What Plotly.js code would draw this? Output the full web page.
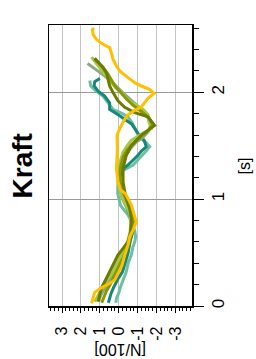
<!DOCTYPE html>
<html>
<head>
<meta charset="utf-8">
<script src="https://cdn.plot.ly/plotly-3.0.1.min.js"></script>
<style>html,body{margin:0;padding:0;background:#fff;}#chart{width:256px;height:359px;}</style>
</head>
<body>
<div id="chart"></div>
<script>
// Force values in N/100, time in s (chart is drawn rotated: time runs upward, force runs right-to-left)
const forceTicks = [3, 2, 1, 0, -1, -2, -3];
const forceTickText = ["3", "2", "1", "0", "-1", "-2", "-3"];
const timeTicks = [0, 1, 2];

const lightTealTime = [0.03,0.07,0.12,0.17,0.25,0.32,0.4,0.48,0.55,0.6,0.65,0.7,0.78,0.85,0.94,1.0,1.05,1.1,1.16,1.22,1.27,1.32,1.38,1.45,1.49,1.53,1.58,1.65,1.72,1.77,1.8,1.84,1.9,1.965,2.01,2.06,2.11];
const lightTealForce = [0.15,0.12,0.0,-0.08,-0.25,-0.4,-0.5,-0.67,-0.75,-0.85,-0.9,-0.85,-0.7,-0.5,-0.1,0.0,0.05,0.05,0.04,-0.05,-0.23,-0.76,-1.1,-1.45,-1.64,-1.45,-1.1,-0.9,-0.7,-0.49,-0.2,0.3,0.56,0.83,1.18,1.48,1.53];

const darkTealTime = [0.03,0.07,0.12,0.17,0.25,0.32,0.4,0.5,0.6,0.7,0.78,0.85,0.9,0.95,1.01,1.1,1.16,1.22,1.27,1.32,1.37,1.41,1.45,1.49,1.55,1.62,1.7,1.74,1.78,1.81,1.84,1.9,1.965,2.01,2.06,2.1,2.13];
const darkTealForce = [0.55,0.5,0.4,0.28,0.05,-0.2,-0.35,-0.5,-0.6,-0.75,-0.75,-0.6,-0.49,-0.4,-0.23,-0.1,-0.05,-0.08,-0.14,-0.49,-0.8,-1.02,-1.2,-1.46,-1.35,-1.0,-0.7,-0.4,-0.05,0.21,0.48,0.48,0.74,1.09,1.3,1.27,1.0];

const grayGreenTime = [0.05,0.1,0.16,0.22,0.28,0.35,0.42,0.5,0.58,0.66,0.74,0.82,0.88,0.95,1.02,1.1,1.18,1.25,1.32,1.4,1.47,1.53,1.58,1.64,1.7,1.76,1.82,1.88,1.94,2.0,2.06,2.12,2.18,2.23,2.27];
const grayGreenForce = [1.05,0.95,0.75,0.55,0.35,0.1,-0.12,-0.3,-0.5,-0.62,-0.7,-0.68,-0.55,-0.35,-0.15,-0.05,0.0,-0.05,-0.15,-0.35,-0.6,-0.9,-1.3,-1.6,-1.7,-1.55,-1.3,-0.95,-0.55,-0.2,0.15,0.5,0.95,1.35,1.65];

const lightGreenTime = [0.04,0.1,0.15,0.2,0.26,0.32,0.4,0.48,0.55,0.62,0.7,0.78,0.85,0.91,0.97,1.04,1.12,1.19,1.26,1.32,1.38,1.44,1.5,1.55,1.61,1.66,1.72,1.79,1.84,1.89,1.93,1.995,2.04,2.09,2.17,2.23,2.29,2.33];
const lightGreenForce = [1.27,1.1,0.95,0.78,0.55,0.3,0.08,-0.15,-0.35,-0.5,-0.6,-0.65,-0.6,-0.49,-0.3,-0.14,-0.02,0.04,0.0,-0.05,-0.12,-0.23,-0.45,-0.67,-1.2,-1.73,-1.6,-1.55,-1.29,-0.85,-0.49,-0.14,0.15,0.39,0.74,1.0,1.27,1.44];

const oliveTime = [0.03,0.08,0.14,0.2,0.28,0.36,0.44,0.52,0.6,0.68,0.76,0.84,0.92,1.0,1.08,1.16,1.24,1.32,1.4,1.46,1.52,1.58,1.64,1.7,1.76,1.82,1.88,1.94,2.0,2.06,2.12,2.18,2.24,2.28,2.31];
const oliveForce = [0.9,0.8,0.65,0.45,0.25,0.02,-0.2,-0.4,-0.55,-0.68,-0.8,-0.75,-0.6,-0.4,-0.2,-0.08,-0.05,-0.12,-0.25,-0.45,-0.75,-1.15,-1.55,-1.8,-1.6,-1.2,-0.75,-0.4,-0.1,0.2,0.4,0.6,0.85,1.1,1.28];

const darkOliveTime = [0.04,0.1,0.165,0.26,0.383,0.477,0.54,0.6,0.69,0.82,0.91,1.04,1.16,1.29,1.41,1.5,1.6,1.69,1.77,1.81,1.86,1.92,1.997,2.06,2.12,2.18,2.23,2.28,2.32];
const darkOliveForce = [1.09,1.0,0.92,0.65,0.3,0.04,-0.23,-0.49,-0.63,-0.67,-0.58,-0.35,-0.23,-0.23,-0.4,-0.67,-1.2,-1.9,-1.55,-0.85,-0.32,0.04,0.3,0.48,0.56,0.65,0.83,1.09,1.27];

const yellowTime = [0.025,0.128,0.171,0.203,0.243,0.305,0.383,0.477,0.57,0.648,0.71,0.788,0.835,0.88,0.944,1.006,1.053,1.084,1.162,1.287,1.474,1.598,1.66,1.72,1.785,1.832,1.863,1.904,1.944,1.99,2.028,2.059,2.09,2.137,2.2,2.246,2.308,2.371,2.418,2.449,2.495,2.542,2.589,2.6];
const yellowForce = [1.44,1.27,0.92,0.56,0.21,0.04,-0.18,-0.32,-0.49,-0.58,-0.76,-0.93,-0.85,-0.76,-0.67,-0.49,-0.35,-0.11,0.04,0.12,0.07,0.09,-0.05,-0.23,-0.45,-0.85,-1.2,-1.37,-1.55,-1.87,-1.64,-1.2,-0.85,-0.49,-0.05,0.12,0.3,0.39,0.48,0.83,1.18,1.36,1.39,1.3];

const series = [
  {t: lightTealTime, f: lightTealForce, color: "#6cbf9f"},
  {t: darkTealTime, f: darkTealForce, color: "#16877a"},
  {t: grayGreenTime, f: grayGreenForce, color: "#8fa88a"},
  {t: lightGreenTime, f: lightGreenForce, color: "#a5c846"},
  {t: oliveTime, f: oliveForce, color: "#879800"},
  {t: darkOliveTime, f: darkOliveForce, color: "#6b7c00"},
  {t: yellowTime, f: yellowForce, color: "#ffc000"}
];

const traces = series.map(s => ({
  type: "scatter", mode: "lines",
  x: s.f, y: s.t,
  line: {color: s.color, width: 3},
  hoverinfo: "skip"
}));

const FONT = "Liberation Sans, Arial, sans-serif";
// trailing spacing keeps the rotated labels clear of the axis, as in the reference
const forceTickLabels = forceTickText.map(s => s + "\u00a0\u2009");

const layout = {
  width: 256, height: 359,
  margin: {l: 49, r: 64, t: 25, b: 53, pad: 0},
  paper_bgcolor: "#ffffff", plot_bgcolor: "#ffffff",
  showlegend: false,
  font: {family: FONT, color: "#000"},
  xaxis: {
    range: [3.69, -3.88],
    tickmode: "array", tickvals: forceTicks, ticktext: forceTickLabels,
    tickangle: -90, tickfont: {size: 16, color: "#000", family: FONT},
    ticks: "outside", ticklen: 5, tickwidth: 1, tickcolor: "#000",
    showline: true, linecolor: "#000", linewidth: 1.5, mirror: true,
    showgrid: true, gridcolor: "#c4c4c4", gridwidth: 1,
    zeroline: false,
    minor: {tickmode: "linear", tick0: 0, dtick: 0.2, ticks: "outside", ticklen: 3, tickcolor: "#000", tickwidth: 1, showgrid: false}
  },
  yaxis: {
    range: [0, 2.63], side: "right",
    tickmode: "array", tickvals: timeTicks, ticktext: timeTicks.map(String),
    tickangle: -90, tickfont: {size: 17, color: "#000", family: FONT},
    ticks: "outside", ticklen: 10, tickwidth: 1, tickcolor: "#000",
    showline: true, linecolor: "#000", linewidth: 1.5, mirror: true,
    showgrid: true, gridcolor: "#999999", gridwidth: 1,
    zeroline: false,
    minor: {tickmode: "linear", tick0: 0, dtick: 0.2, ticks: "outside", ticklen: 5, tickcolor: "#000", tickwidth: 1, showgrid: false}
  },
  annotations: [
    {text: "<b>Kraft</b>", xref: "paper", yref: "paper", x: -0.182, y: 0.5, xanchor: "center", yanchor: "middle",
     textangle: -90, showarrow: false, font: {size: 28, family: FONT, color: "#000"}},
    {text: "[N/100]", xref: "paper", yref: "paper", x: 0.5, y: -0.153, xanchor: "center", yanchor: "middle",
     textangle: 180, showarrow: false, font: {size: 16, family: FONT, color: "#000"}},
    {text: "[s]", xref: "paper", yref: "paper", x: 1.37, y: 0.5, xanchor: "center", yanchor: "middle",
     textangle: -90, showarrow: false, font: {size: 16, family: FONT, color: "#000"}}
  ]
};

Plotly.newPlot("chart", traces, layout, {displayModeBar: false, staticPlot: true});
</script>
</body>
</html>
